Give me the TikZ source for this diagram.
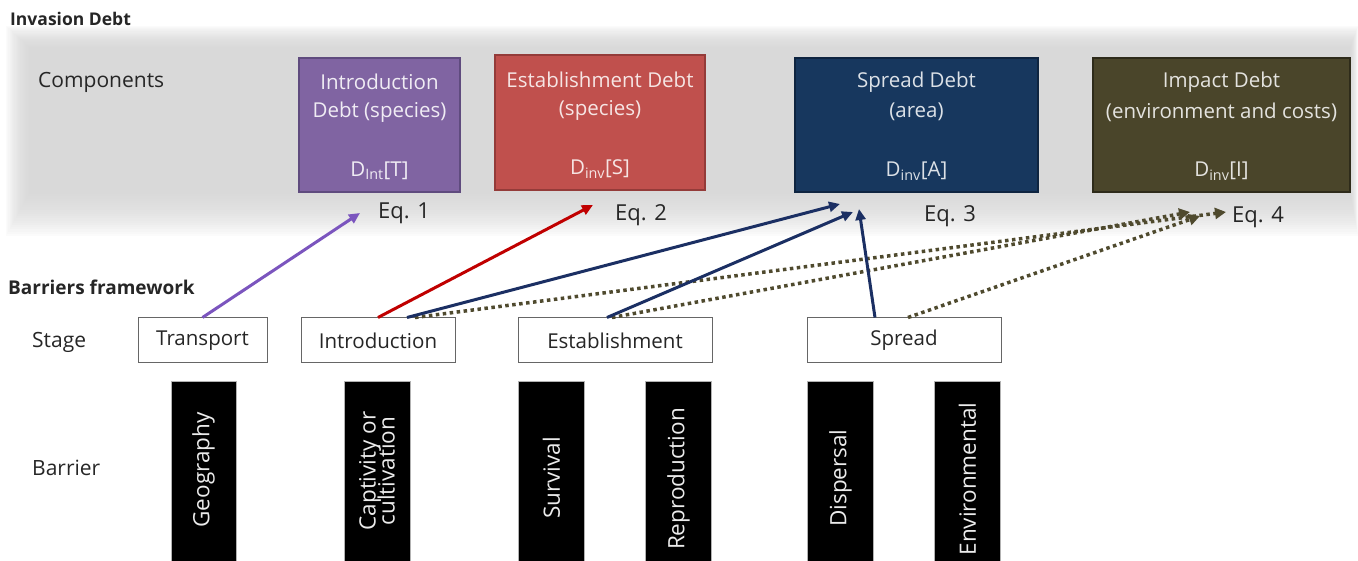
\documentclass[tikz,border=0pt]{standalone}
\usepackage{fontspec}
\setmainfont{Open Sans}
\usetikzlibrary{arrows.meta}
\definecolor{cpurple}{HTML}{8064A2}
\definecolor{cpurpled}{HTML}{5F4B7E}
\definecolor{cred}{HTML}{C0504D}
\definecolor{credd}{HTML}{943B39}
\definecolor{cnavy}{HTML}{17375E}
\definecolor{cnavyd}{HTML}{0E2440}
\definecolor{colive}{HTML}{4A452A}
\definecolor{colived}{HTML}{2E2B1A}
\definecolor{apurple}{HTML}{7B55BE}
\definecolor{ared}{HTML}{C00000}
\definecolor{anavy}{HTML}{1B2F63}
\definecolor{aolive}{HTML}{4F4A2E}
\definecolor{panelgray}{RGB}{205,205,205}
\definecolor{txt}{HTML}{262626}
\tikzset{
  lbl/.style={font=\fontsize{21}{25}\selectfont, text=txt, anchor=west, inner sep=0pt},
  ttl/.style={font=\fontsize{19}{23}\selectfont\bfseries, text=txt, anchor=west, inner sep=0pt},
  dbox/.style={draw, line width=1.5pt, inner sep=0pt},
  dtxt/.style={font=\fontsize{20.5}{24}\selectfont, inner sep=0pt},
  stagebox/.style={draw=gray!80!black, line width=1pt, fill=white, minimum height=45pt, inner sep=0pt, font=\fontsize{20.5}{24}\selectfont, text=txt},
  bar/.style={fill=black, draw=gray!60, line width=0.6pt, inner sep=0pt},
  bartxt/.style={font=\fontsize{22.5}{24}\selectfont, text=white!92!black, rotate=90, inner sep=0pt, align=center},
  eqlbl/.style={font=\fontsize{22}{26}\selectfont, text=txt, inner sep=0pt},
  solidarrow/.style={line width=3pt, -{Triangle[length=11pt,width=10pt]}},
  dotarrow/.style={line width=3.5pt, dash pattern=on 3.5pt off 3.5pt, -{Triangle[length=11pt,width=11pt]}, draw=aolive}
}
\begin{document}
\begin{tikzpicture}[x=1pt,y=-1pt]
\useasboundingbox (0,0) rectangle (1358,561);
% soft grey panel
\foreach \i in {0,...,19}{
  \fill[panelgray, opacity=0.07]
    ({6+\i*1.2},{26+\i*1.1}) rectangle ({1358-\i*0.4},{236-\i*2.2});
}
\node[ttl, font=\fontsize{17.5}{21}\selectfont\bfseries] (title) at (10,19) {Invasion Debt};
\node[lbl] (comp) at (38,82) {Components};

% component boxes
\node[dbox, fill=cpurple, draw=cpurpled, minimum width=161pt, minimum height=134pt] (bint) at (379.5,125) {};
\node[dbox, fill=cred, draw=credd, minimum width=210pt, minimum height=135pt] (best) at (600,122.5) {};
\node[dbox, fill=cnavy, draw=cnavyd, minimum width=243pt, minimum height=134pt] (bspr) at (916.5,125) {};
\node[dbox, fill=colive, draw=colived, minimum width=257pt, minimum height=134pt] (bimp) at (1221.5,125) {};

\node[dtxt, text=white!88!cpurple] (t1a) at (379.5,82) {Introduction};
\node[dtxt, text=white!88!cpurple] (t1b) at (379.5,112) {Debt (species)};
\node[dtxt, text=white!88!cpurple] (t1c) at (379.5,171) {D\textsubscript{Int}[T]};
\node[dtxt, text=white!85!cred] (t2a) at (600,80) {Establishment Debt};
\node[dtxt, text=white!85!cred] (t2b) at (600,110) {(species)};
\node[dtxt, text=white!85!cred] (t2c) at (600,169) {D\textsubscript{inv}[S]};
\node[dtxt, text=white!85!cnavy] (t3a) at (916.5,82) {Spread Debt};
\node[dtxt, text=white!85!cnavy] (t3b) at (916.5,112) {(area)};
\node[dtxt, text=white!85!cnavy] (t3c) at (916.5,171) {D\textsubscript{inv}[A]};
\node[dtxt, text=white!85!colive] (t4a) at (1221.5,82) {Impact Debt};
\node[dtxt, text=white!85!colive] (t4b) at (1221.5,112) {(environment and costs)};
\node[dtxt, text=white!85!colive] (t4c) at (1221.5,171) {D\textsubscript{inv}[I]};

% equation labels
\node[eqlbl] (eq1) at (404,213) {Eq. 1};
\node[eqlbl] (eq2) at (641,215) {Eq. 2};
\node[eqlbl] (eq3) at (950,216) {Eq. 3};
\node[eqlbl] (eq4) at (1258,217) {Eq. 4};

% barriers framework
\node[ttl] (bf) at (8,287) {Barriers framework};
\node[lbl] (stage) at (32,342) {Stage};
\node[lbl] (barrier) at (32,468) {Barrier};

\node[stagebox, minimum width=129pt] (strans) at (202.5,340.5) {Transport};
\node[stagebox, minimum width=154pt] (sintro) at (378,340.5) {Introduction};
\node[stagebox, minimum width=194pt] (sest) at (615,340.5) {Establishment};
\node[stagebox, minimum width=194pt] (sspr) at (904,340.5) {Spread};

% barrier bars
\node[bar, minimum width=65pt, minimum height=185pt] (bgeo) at (203.5,473.5) {};
\node[bar, minimum width=66pt, minimum height=185pt] (bcap) at (377,473.5) {};
\node[bar, minimum width=66pt, minimum height=185pt] (bsur) at (551.5,473.5) {};
\node[bar, minimum width=66pt, minimum height=185pt] (brep) at (678.5,473.5) {};
\node[bar, minimum width=66pt, minimum height=185pt] (bdis) at (840.5,473.5) {};
\node[bar, minimum width=66pt, minimum height=185pt] (benv) at (967.5,473.5) {};
\node[bartxt] (tgeo) at (203.5,470) {Geography};
\node[bartxt] (tcap) at (377,471) {Captivity or\\[-5pt]cultivation};
\node[bartxt] (tsur) at (551.5,478) {Survival};
\node[bartxt] (trep) at (678.5,479) {Reproduction};
\node[bartxt] (tdis) at (840.5,478) {Dispersal};
\node[bartxt] (tenv) at (967.5,479) {Environmental};

% arrow end points
\coordinate (e1) at (360,213);
\coordinate (e2) at (593,205);
\coordinate (e3a) at (840,204);
\coordinate (e3b) at (853,212);
\coordinate (e3c) at (859,209);
\coordinate (e4a) at (1226,212);
\coordinate (e4b) at (1190,212);
\coordinate (e4c) at (1200,216);

% arrows
\draw[dotarrow] ([xshift=37pt]sintro.north) -- (e4a);
\draw[dotarrow] ([xshift=-3pt]sest.north) -- (e4b);
\draw[dotarrow] ([xshift=4pt]sspr.north) -- (e4c);
\draw[solidarrow, draw=apurple] (strans.north) -- (e1);
\draw[solidarrow, draw=ared] (sintro.north) -- (e2);
\draw[solidarrow, draw=anavy] ([xshift=29pt]sintro.north) -- (e3a);
\draw[solidarrow, draw=anavy] ([xshift=-8pt]sest.north) -- (e3b);
\draw[solidarrow, draw=anavy] ([xshift=-29pt]sspr.north) -- (e3c);
\end{tikzpicture}
\end{document}
